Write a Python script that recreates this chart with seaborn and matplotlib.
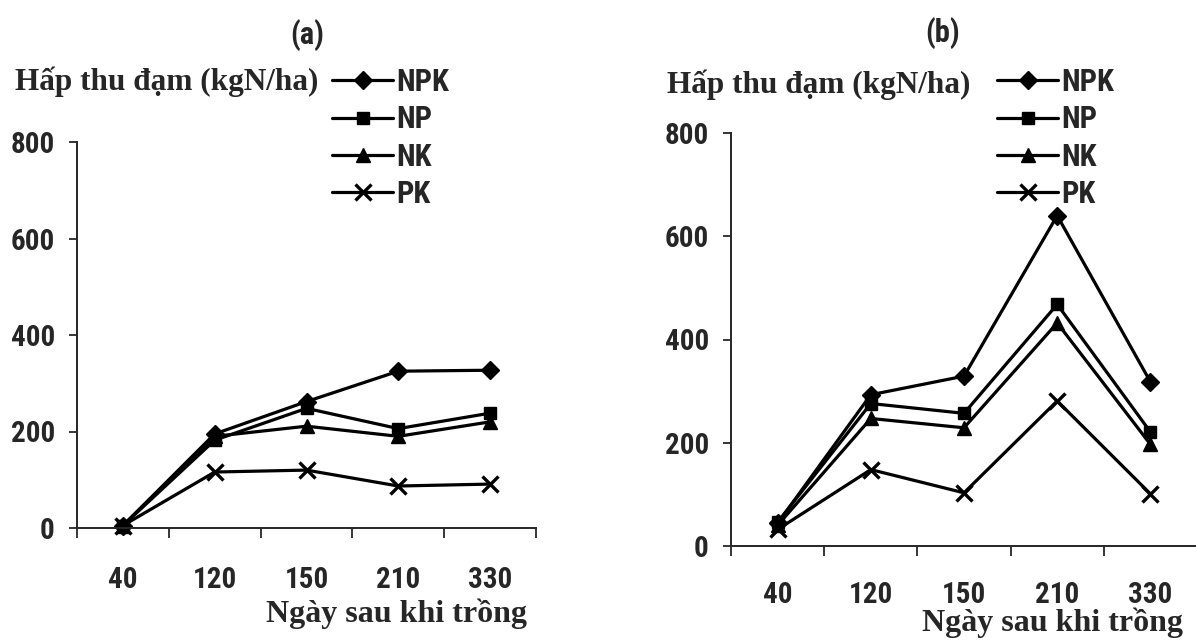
import numpy as np
import pandas as pd
import matplotlib
matplotlib.use('Agg')
import matplotlib.pyplot as plt
import seaborn as sns

# So lieu doc tu hinh
days = ['40', '120', '150', '210', '330']
series = ['NPK', 'NP', 'NK', 'PK']

a_npk = [5, 195, 262, 325, 327]
a_np = [5, 182, 248, 206, 238]
a_nk = [5, 190, 211, 190, 220]
a_pk = [5, 116, 120, 87, 91]

b_npk = [44, 293, 329, 640, 318]
b_np = [46, 276, 257, 468, 221]
b_nk = [40, 247, 229, 432, 197]
b_pk = [32, 148, 103, 281, 101]

y_ticks = [0, 200, 400, 600, 800]
y_label = 'Hấp thu đạm (kgN/ha)'
x_label = 'Ngày sau khi trồng'

sns.set_style('ticks')
plt.rcParams['font.family'] = ['DejaVu Sans Condensed', 'Roboto Condensed', 'DejaVu Sans']
plt.rcParams['font.weight'] = 'bold'
plt.rcParams['font.stretch'] = 'condensed'

markers = {'NPK': 'D', 'NP': 's', 'NK': '^', 'PK': 'x'}
msize = {'NPK': 9, 'NP': 9, 'NK': 10, 'PK': 11}

W, H = 1196, 641
fig = plt.figure(figsize=(W / 100, H / 100), dpi=100)
ax_a = fig.add_axes([77 / W, 1 - 528 / H, 459 / W, 386 / H])
ax_b = fig.add_axes([731 / W, 1 - 546 / H, 466 / W, 413 / H])

panels = [
    (ax_a, [a_npk, a_np, a_nk, a_pk], 27),
    (ax_b, [b_npk, b_np, b_nk, b_pk], 25),
]

for ax, vals, xpad in panels:
    for name, v in zip(series, vals):
        df = pd.DataFrame({'day': days, 'value': v})
        sns.lineplot(data=df, x='day', y='value', marker=markers[name],
                     markersize=msize[name], color='black', linewidth=2.3,
                     markeredgecolor='black', markerfacecolor='black',
                     markeredgewidth=2.4 if name == 'PK' else 1,
                     sort=False, ax=ax)
    ax.set_xlim(-0.5, 4.5)
    ax.set_ylim(0, 800)
    ax.set_yticks(y_ticks)
    ax.set_xticks(range(len(days)))
    ax.set_xticklabels(days)
    ax.set_xticks(np.arange(-0.5, len(days), 1), minor=True)
    ax.tick_params(axis='x', which='major', length=0, pad=xpad, labelsize=21)
    ax.tick_params(axis='x', which='minor', length=7, width=1.3, direction='out')
    ax.tick_params(axis='y', length=6, width=1.3, pad=10, labelsize=21)
    ax.set_xlabel('')
    ax.set_ylabel('')
    sns.despine(ax=ax)
    for s in ['left', 'bottom']:
        ax.spines[s].set_linewidth(1.4)
    ax.patch.set_alpha(0)
    for line in ax.lines:
        line.set_clip_on(False)

serif = ['Liberation Serif', 'DejaVu Serif']

fig.text(307 / W, 1 - 35 / H, '(a)', ha='center', va='center', fontsize=22, weight='bold')
fig.text(943 / W, 1 - 33 / H, '(b)', ha='center', va='center', fontsize=22, weight='bold')

fig.text(15 / W, 1 - 82 / H, y_label, ha='left', va='center', fontsize=22.5,
         weight='bold', family=serif)
fig.text(667 / W, 1 - 85 / H, y_label, ha='left', va='center', fontsize=22.5,
         weight='bold', family=serif)

fig.text(396 / W, 1 - 614 / H, x_label, ha='center', va='center', fontsize=23,
         weight='bold', family=serif)
fig.text(1053 / W, 1 - 623 / H, x_label, ha='center', va='center', fontsize=23,
         weight='bold', family=serif)

for ax, x0 in [(ax_a, 332), (ax_b, 997)]:
    fig.legend(ax.lines[:4], series, loc='upper left',
               bbox_to_anchor=(x0 / W, 1 - 67 / H), frameon=False,
               fontsize=22, handlelength=2.0, handletextpad=0.1,
               labelspacing=0.24, borderpad=0, borderaxespad=0)

fig.savefig('out.png', dpi=100)
